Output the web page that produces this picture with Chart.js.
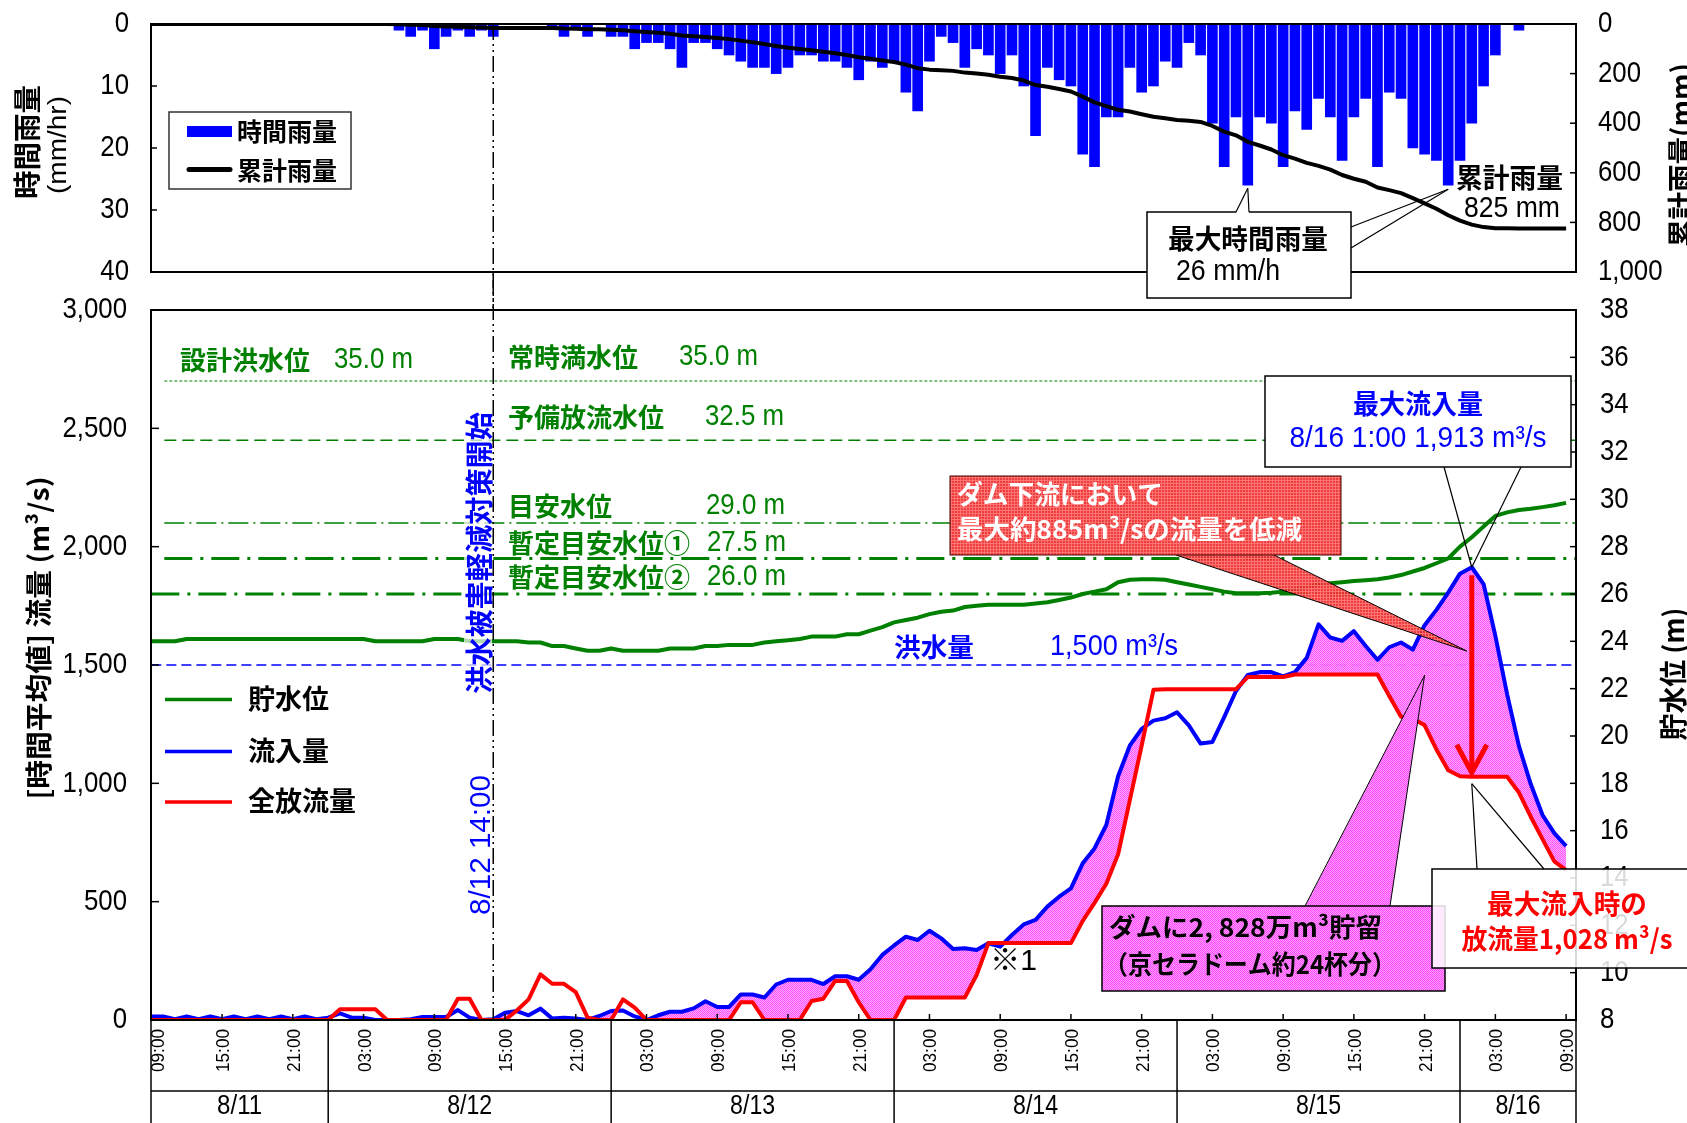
<!DOCTYPE html>
<html lang="ja">
<head>
<meta charset="utf-8">
<title>ダム操作状況（8/11〜8/16）</title>
<script src="https://cdn.jsdelivr.net/npm/chart.js@4.4.1/dist/chart.umd.min.js"></script>
<style>
  html, body { margin: 0; padding: 0; background: #fff; }
  #wrap { position: relative; width: 1687px; height: 1123px; overflow: hidden; background: #fff; }
  #wrap canvas { position: absolute; left: 0; top: 0; }
</style>
</head>
<body>
<div id="wrap">
  <canvas id="rain" width="1687" height="1123"></canvas>
  <canvas id="flow" width="1687" height="1123"></canvas>
</div>
<script>
// ---- hourly series, index = hours after 8/11 09:00 ----
const hourlyRain = [
  0,0,0,0,0,0,0,0,0,0,0,0,
  0,0,0,0,0,0,0,0,0,1,2,1,
  4,2,1,2,1,2,0,0,0,0,0.5,2,
  0.5,2,0,2,2,4,3,3,4,7,3,3,
  4,5,6,7,7,8,7,5,5,6,6,7,
  9,6,7,6,11,14,6,2,3,7,4,5,
  8,5,10,18,7,9,10,21,23,15,15,7,
  11,10,6,7,3,5,16,23,15,26,15,16,
  23,14,17,12,15,22,15,12,23,11,12,20,
  21,22,26,22,16,10,5,0,1,0,0,0,
  0
];
const cumulativeRain = [
  0,0,0,0,0,0,0,0,0,0,0,0,
  0,0,0,0,0,0,0,0,0,1,3,4,
  8,10,11,13,14,16,16,16,16,16,16.5,18.5,
  19,21,21,23,25,29,32,35,39,46,49,52,
  56,61,67,74,81,89,96,101,106,112,118,125,
  134,140,147,153,164,178,184,186,189,196,200,205,
  213,218,228,246,253,262,272,293,316,331,346,353,
  364,374,380,387,390,395,411,434,449,475,490,506,
  529,543,560,572,587,609,624,636,659,670,682,702,
  723,745,771,793,809,819,824,824,825,825,825,825,
  825
];
const inflow = [
  15,15,3,15,3,15,3,15,3,15,3,15,
  3,15,3,10,28,10,10,0,0,0,3,13,
  13,13,42,10,0,3,31,38,20,48,6,10,
  6,0,17,38,40,15,0,20,35,35,49,79,
  55,55,108,108,95,150,170,170,170,152,185,185,
  170,214,275,315,352,338,377,345,300,303,296,324,
  310,359,404,423,479,521,556,662,725,824,1030,1160,
  1230,1265,1275,1300,1245,1168,1175,1280,1390,1458,1470,1470,
  1452,1470,1530,1672,1616,1602,1643,1580,1522,1575,1595,1565,
  1668,1733,1806,1886,1913,1842,1623,1376,1157,997,866,790,
  735
];
const outflow = [
  0,0,0,0,0,0,0,0,0,0,0,0,
  0,0,0,0,45,45,45,45,0,0,0,0,
  0,0,90,90,0,0,0,40,87,193,153,153,
  118,10,0,0,87,52,0,0,0,0,0,0,
  0,0,75,75,0,0,0,0,80,90,165,165,
  75,0,0,0,95,95,95,95,95,95,190,325,
  325,325,325,325,325,325,325,419,495,576,700,930,
  1160,1395,1398,1398,1398,1398,1398,1398,1398,1449,1449,1449,
  1449,1460,1460,1460,1460,1460,1460,1460,1460,1369,1281,1274,
  1245,1143,1055,1030,1028,1028,1028,1028,961,859,764,670,
  633
];
const waterLevel = [
  24.0,24.0,24.0,24.1,24.1,24.1,24.1,24.1,24.1,24.1,24.1,24.1,
  24.1,24.1,24.1,24.1,24.1,24.1,24.1,24.0,24.0,24.0,24.0,24.0,
  24.1,24.1,24.1,24.0,24.0,24.0,24.0,24.0,23.95,23.95,23.8,23.8,
  23.7,23.6,23.6,23.7,23.6,23.6,23.6,23.6,23.7,23.7,23.7,23.8,
  23.8,23.85,23.85,23.85,23.95,24.0,24.05,24.1,24.2,24.2,24.2,24.3,
  24.3,24.45,24.6,24.8,24.9,25.0,25.15,25.25,25.3,25.45,25.5,25.55,
  25.55,25.55,25.55,25.6,25.65,25.75,25.85,26.0,26.1,26.2,26.5,26.6,
  26.62,26.62,26.6,26.5,26.4,26.3,26.2,26.1,26.03,26.03,26.03,26.05,
  26.1,26.2,26.3,26.4,26.45,26.5,26.55,26.58,26.62,26.7,26.8,26.95,
  27.1,27.3,27.5,28.0,28.4,28.85,29.3,29.45,29.55,29.6,29.67,29.75,
  29.85
];

// reference levels (m) and flood discharge (m3/s)
const levelNames  = ['設計洪水位', '常時満水位', '予備放流水位', '目安水位', '暫定目安水位①', '暫定目安水位②'];
const levelValues = [35.0, 35.0, 32.5, 29.0, 27.5, 26.0];
const floodFlow = 1500;
const operationStartHour = 29;          // 8/12 14:00

// axis labelling
const timeTickHours  = [0,6,12,18,24,30,36,42,48,54,60,66,72,78,84,90,96,102,108,114,120];
const timeTickLabels = ['09:00','15:00','21:00','03:00','09:00','15:00','21:00','03:00','09:00','15:00','21:00',
                        '03:00','09:00','15:00','21:00','03:00','09:00','15:00','21:00','03:00','09:00'];
const dayBoundaryHours = [15, 39, 63, 87, 111];
const dayLabels = ['8/11', '8/12', '8/13', '8/14', '8/15', '8/16'];

// ---- layout / style ----
const X_MIN = -0.03, X_MAX = 120.84;
const F_NUM = "'Liberation Sans',Arial,'Noto Sans CJK JP',sans-serif";
const F_JP  = "'Noto Sans CJK JP','Noto Sans',sans-serif";
const F_LAT = "'Liberation Sans',Arial,sans-serif";
const GREEN = '#008000', BLUE = '#0000ff', RED = '#ff0000';
const TICK = { size: 30, family: F_NUM, sx: 0.86 };

const pts = arr => arr.map((v, i) => ({ x: i, y: v }));
const fmt = v => Math.round(v).toLocaleString('en-US');

function seg(ctx, x1, y1, x2, y2) {
  ctx.beginPath(); ctx.moveTo(x1, y1); ctx.lineTo(x2, y2); ctx.stroke();
}
function txt(ctx, s, x, y, o = {}) {
  ctx.save();
  ctx.font = `${o.weight || 'normal'} ${o.size || 26}px ${o.family || F_JP}`;
  ctx.fillStyle = o.color || '#000';
  ctx.textBaseline = 'middle';
  ctx.textAlign = o.align || 'left';
  ctx.translate(x, y);
  if (o.rotate) ctx.rotate(o.rotate);
  if (o.width) { const w = ctx.measureText(s).width; if (w > 0) ctx.scale(o.width / w, 1); }
  else if (o.sx) ctx.scale(o.sx, 1);
  ctx.fillText(s, 0, 0);
  ctx.restore();
}
function makePattern(ctx, size, paint) {
  const c = document.createElement('canvas');
  c.width = c.height = size;
  paint(c.getContext('2d'));
  return ctx.createPattern(c, 'repeat');
}
function hourLabel(h) {
  const t = 9 + h;
  return `8/${11 + Math.floor(t / 24)} ${t % 24}:00`;
}
// value axes: fixed widths, labels drawn by the decoration plugins
function valueAxis(position, min, max, step, reverse) {
  return {
    type: 'linear', position, min, max, reverse: !!reverse,
    grid: { display: false, drawTicks: false }, border: { display: false },
    ticks: { stepSize: step, display: false, autoSkip: false },
    afterFit(s) { s.width = position === 'left' ? 151 : 111; s.paddingTop = 0; s.paddingBottom = 0; }
  };
}
function axisLabels(ctx, scale, side, x, fmtFn) {
  scale.ticks.forEach(t => {
    txt(ctx, fmtFn(t.value), x, scale.getPixelForValue(t.value), Object.assign({ align: side === 'left' ? 'right' : 'left' }, TICK));
  });
}

const rainCtx = document.getElementById('rain').getContext('2d');
const flowCtx = document.getElementById('flow').getContext('2d');

const storagePattern = makePattern(flowCtx, 2, g => {
  g.fillStyle = 'rgba(255,160,255,0.9)'; g.fillRect(0, 0, 2, 2);
  g.fillStyle = 'rgba(255,70,255,0.9)'; g.fillRect(0, 0, 1, 1); g.fillRect(1, 1, 1, 1);
});
const storageSolid = makePattern(flowCtx, 2, g => {
  g.fillStyle = '#ffa0ff'; g.fillRect(0, 0, 2, 2);
  g.fillStyle = '#ff46ff'; g.fillRect(0, 0, 1, 1); g.fillRect(1, 1, 1, 1);
});
const redPattern = makePattern(flowCtx, 3, g => {
  g.fillStyle = 'rgba(236,40,40,0.9)'; g.fillRect(0, 0, 3, 3);
  g.fillStyle = 'rgba(255,120,120,0.9)'; g.fillRect(0, 0, 3, 1); g.fillRect(0, 0, 1, 3);
});

// ---------------- rainfall panel ----------------
const rainDeco = {
  id: 'rainDeco',
  afterDraw(chart) {
    const { ctx, chartArea: a, scales: { x, yRain, yCum } } = chart;
    ctx.save();
    ctx.strokeStyle = '#000';
    ctx.lineWidth = 2;
    ctx.strokeRect(a.left, a.top, a.right - a.left, a.bottom - a.top);
    ctx.lineWidth = 1.5;
    yRain.ticks.forEach(t => {
      if (t.value > yRain.min && t.value < yRain.max) { const p = yRain.getPixelForValue(t.value); seg(ctx, a.left, p, a.left + 6, p); }
    });
    yCum.ticks.forEach(t => {
      if (t.value > yCum.min && t.value < yCum.max) { const p = yCum.getPixelForValue(t.value); seg(ctx, a.right - 6, p, a.right, p); }
    });
    axisLabels(ctx, yRain, 'left', a.left - 22, v => String(v));
    axisLabels(ctx, yCum, 'right', a.right + 22, v => fmt(v));

    // start of flood-damage mitigation operation
    const sx = x.getPixelForValue(operationStartHour);
    ctx.setLineDash([16, 4, 2, 4, 2, 4]);
    seg(ctx, sx, a.top, sx, 310);
    ctx.setLineDash([]);

    // legend
    ctx.fillStyle = '#fff'; ctx.fillRect(169, 112, 182, 77);
    ctx.strokeStyle = '#333'; ctx.lineWidth = 1.5; ctx.strokeRect(169, 112, 182, 77);
    ctx.fillStyle = BLUE; ctx.fillRect(187, 126, 45, 11);
    ctx.strokeStyle = '#000'; ctx.lineWidth = 5; ctx.lineCap = 'round';
    seg(ctx, 189, 169.5, 230, 169.5);
    ctx.lineCap = 'butt';
    txt(ctx, '時間雨量', 237, 131.5, { size: 25, weight: 'bold', width: 100 });
    txt(ctx, '累計雨量', 237, 170, { size: 25, weight: 'bold', width: 100 });

    // axis titles
    txt(ctx, '時間雨量', 27, 142, { size: 28, weight: 'bold', align: 'center', rotate: -Math.PI / 2, width: 114 });
    txt(ctx, '(mm/hr)', 59, 145, { size: 26, family: F_LAT, align: 'center', rotate: -Math.PI / 2, width: 98 });
    txt(ctx, '累計雨量(mm)', 1681, 155, { size: 28, weight: 'bold', align: 'center', rotate: -Math.PI / 2, width: 184 });

    // maximum hourly rainfall callout
    const maxRain = Math.max(...hourlyRain);
    const peaks = hourlyRain.map((v, i) => (v === maxRain ? i : -1)).filter(i => i >= 0);
    const bx = 1147, by = 212, bw = 204, bh = 86;
    ctx.fillStyle = '#fff'; ctx.fillRect(bx, by, bw, bh);
    ctx.strokeStyle = '#000'; ctx.lineWidth = 1.5; ctx.strokeRect(bx, by, bw, bh);
    ctx.lineWidth = 1.2;
    const t1x = x.getPixelForValue(peaks[0]), t1y = yRain.getPixelForValue(maxRain) + 3;
    ctx.fillStyle = '#fff';
    ctx.beginPath(); ctx.moveTo(1236, by + 1); ctx.lineTo(t1x, t1y); ctx.lineTo(1249, by + 1); ctx.closePath(); ctx.fill();
    seg(ctx, 1236, by, t1x, t1y); seg(ctx, 1249, by, t1x, t1y);
    if (peaks.length > 1) {
      const t2x = x.getPixelForValue(peaks[peaks.length - 1]), t2y = yRain.getPixelForValue(maxRain) + 4;
      seg(ctx, bx + bw, 227, t2x, t2y); seg(ctx, bx + bw, 248, t2x, t2y);
    }
    txt(ctx, '最大時間雨量', 1248, 239, { size: 27, weight: 'bold', align: 'center', width: 160 });
    txt(ctx, `${maxRain} mm/h`, 1176, 272, { size: 30, family: F_NUM, width: 104 });

    // total rainfall label
    txt(ctx, '累計雨量', 1456, 178, { size: 27, weight: 'bold', width: 107 });
    txt(ctx, `${fmt(cumulativeRain[cumulativeRain.length - 1])} mm`, 1464, 209, { size: 30, family: F_NUM, width: 96 });
    ctx.restore();
  }
};

new Chart(rainCtx, {
  type: 'line',
  data: {
    datasets: [
      { type: 'line', label: '累計雨量', data: pts(cumulativeRain), yAxisID: 'yCum', borderColor: '#000', borderWidth: 4,
        pointRadius: 0, tension: 0, fill: false, borderJoinStyle: 'round', order: 0 },
      { type: 'bar', label: '時間雨量', data: pts(hourlyRain), yAxisID: 'yRain', backgroundColor: BLUE, borderWidth: 0,
        barThickness: 10, order: 1 }
    ]
  },
  options: {
    responsive: false, animation: false, events: [], devicePixelRatio: 1,
    layout: { padding: { top: 24, bottom: 1123 - 272, left: 0, right: 0 } },
    plugins: { legend: { display: false }, tooltip: { enabled: false } },
    scales: {
      x: { type: 'linear', min: X_MIN, max: X_MAX, display: false, offset: false },
      yRain: valueAxis('left', 0, 40, 10, true),
      yCum: valueAxis('right', 0, 1000, 200, true)
    }
  },
  plugins: [rainDeco]
});

// ---------------- discharge / water level panel ----------------
const levelLineStyles = {
  '35.0': { dash: [3, 2], width: 1.2, from: 1.1 },
  '32.5': { dash: [12, 6], width: 1.5, from: 1.1 },
  '29.0': { dash: [20, 5, 2, 5], width: 1.5, from: 1.1 },
  '27.5': { dash: [28, 8, 3, 8], width: 3, from: 1.1 },
  '26.0': { dash: [28, 8, 3, 8], width: 3, from: 0 }
};
const levelLabelPos = [
  { x: 180, y: 360, vx: 334 },
  { x: 508, y: 357, vx: 679 },
  { x: 508, y: 417, vx: 705 },
  { x: 508, y: 506, vx: 706 },
  { x: 508, y: 543, vx: 707 },
  { x: 508, y: 577, vx: 707 }
];

const refDatasets = [...new Set(levelValues)].map(v => {
  const st = levelLineStyles[v.toFixed(1)];
  return {
    type: 'line', data: [{ x: st.from, y: v }, { x: X_MAX, y: v }], yAxisID: 'yLevel',
    borderColor: GREEN, borderWidth: st.width, borderDash: st.dash, pointRadius: 0, fill: false, order: 3
  };
});
refDatasets.push({
  type: 'line', data: [{ x: 0, y: floodFlow }, { x: X_MAX, y: floodFlow }], yAxisID: 'yFlow',
  borderColor: BLUE, borderWidth: 1.5, borderDash: [10, 5], pointRadius: 0, fill: false, order: 3
});

const flowDeco = {
  id: 'flowDeco',
  afterDraw(chart) {
    const { ctx, chartArea: a, scales: { x, yFlow, yLevel } } = chart;
    const X = h => x.getPixelForValue(h);
    const YF = v => yFlow.getPixelForValue(v);
    ctx.save();

    // operation start note
    ctx.fillStyle = 'rgba(255,255,255,0.7)';
    ctx.fillRect(464, 410, 28, 288);
    txt(ctx, '洪水被害軽減対策開始', 479, 553, { size: 28, weight: 'bold', color: BLUE, align: 'center', rotate: -Math.PI / 2, width: 282 });
    txt(ctx, hourLabel(operationStartHour), 482, 845, { size: 30, family: F_NUM, color: BLUE, align: 'center', rotate: -Math.PI / 2, width: 140 });
    ctx.strokeStyle = '#000'; ctx.lineWidth = 1.5;
    ctx.setLineDash([16, 4, 2, 4, 2, 4]);
    const sx = X(operationStartHour);
    seg(ctx, sx, a.top - 38, sx, a.bottom);
    ctx.setLineDash([]);

    // frame, inside ticks and value labels
    ctx.lineWidth = 2;
    ctx.strokeRect(a.left, a.top, a.right - a.left, a.bottom - a.top);
    ctx.lineWidth = 1.5;
    yFlow.ticks.forEach(t => {
      if (t.value > yFlow.min && t.value < yFlow.max) { const p = YF(t.value); seg(ctx, a.left, p, a.left + 8, p); }
    });
    yLevel.ticks.forEach(t => {
      if (t.value > yLevel.min && t.value < yLevel.max) { const p = yLevel.getPixelForValue(t.value); seg(ctx, a.right - 6, p, a.right, p); }
    });
    timeTickHours.forEach(h => { if (h > 0) seg(ctx, X(h), a.bottom, X(h), a.bottom - 6); });
    axisLabels(ctx, yFlow, 'left', a.left - 24, v => fmt(v));
    axisLabels(ctx, yLevel, 'right', a.right + 24, v => String(v));

    // time labels and date row
    timeTickHours.forEach((h, i) =>
      txt(ctx, timeTickLabels[i], Math.max(X(h) + 2, a.left + 8), 1029,
          { size: 18, family: F_LAT, align: 'right', rotate: -Math.PI / 2, width: 43 }));
    const edges = [a.left, ...dayBoundaryHours.map(X), a.right];
    edges.forEach(px => seg(ctx, px, a.bottom, px, 1123));
    seg(ctx, a.left, 1091, a.right, 1091);
    dayLabels.forEach((d, i) =>
      txt(ctx, d, (edges[i] + edges[i + 1]) / 2, 1106, { size: 28, family: F_NUM, align: 'center', width: 45 }));

    // reference level labels
    levelNames.forEach((n, i) => {
      const p = levelLabelPos[i];
      txt(ctx, n, p.x, p.y, { size: 26, weight: 'bold', color: GREEN });
      txt(ctx, `${levelValues[i].toFixed(1)} m`, p.vx, p.y, { size: 30, family: F_NUM, color: GREEN, width: 79 });
    });
    txt(ctx, '洪水量', 894, 647, { size: 26, weight: 'bold', color: BLUE, width: 80 });
    txt(ctx, `${fmt(floodFlow)} m³/s`, 1050, 647, { size: 30, family: F_NUM, color: BLUE, width: 128 });

    // legend
    [[GREEN, '貯水位', 699.5], [BLUE, '流入量', 751.5], [RED, '全放流量', 802]].forEach(([c, n, y]) => {
      ctx.strokeStyle = c; ctx.lineWidth = 3.5; seg(ctx, 165, y, 232, y);
      txt(ctx, n, 248, y - 1, { size: 27, weight: 'bold' });
    });

    // axis titles
    txt(ctx, '[時間平均値] 流量 (m³/s)', 39, 638, { size: 27, weight: 'bold', align: 'center', rotate: -Math.PI / 2, width: 323 });
    txt(ctx, '貯水位 (m)', 1673, 674, { size: 28, weight: 'bold', align: 'center', rotate: -Math.PI / 2, width: 133 });

    // peak inflow and the discharge at that hour
    const maxIn = Math.max(...inflow);
    const pk = inflow.indexOf(maxIn);
    const outAtPeak = outflow[pk];
    const px = X(pk);

    // reduction callout (red)
    const rTipX = px - 5, rTipY = YF(outAtPeak + 0.6 * (maxIn - outAtPeak));
    ctx.fillStyle = redPattern;
    ctx.beginPath(); ctx.moveTo(1176, 555); ctx.lineTo(rTipX, rTipY); ctx.lineTo(1274, 555); ctx.closePath(); ctx.fill();
    ctx.strokeStyle = '#000'; ctx.lineWidth = 1;
    seg(ctx, 1176, 555, rTipX, rTipY); seg(ctx, 1274, 555, rTipX, rTipY);
    ctx.fillStyle = redPattern; ctx.fillRect(950, 476, 391, 79);
    ctx.strokeStyle = '#400'; ctx.lineWidth = 1; ctx.strokeRect(950, 476, 391, 79);
    txt(ctx, 'ダム下流において', 957, 494, { size: 26, weight: 'bold', color: '#fff', width: 206 });
    txt(ctx, `最大約${fmt(maxIn - outAtPeak)}m³/sの流量を低減`, 957, 529, { size: 26, weight: 'bold', color: '#fff', width: 345 });

    // peak inflow callout
    ctx.fillStyle = '#fff'; ctx.fillRect(1265, 376, 306, 91);
    ctx.strokeStyle = '#000'; ctx.lineWidth = 1.5; ctx.strokeRect(1265, 376, 306, 91);
    ctx.lineWidth = 1.2;
    seg(ctx, 1444, 467, px, YF(maxIn)); seg(ctx, 1521, 467, px, YF(maxIn));
    txt(ctx, '最大流入量', 1418, 404, { size: 27, weight: 'bold', color: BLUE, align: 'center', width: 130 });
    txt(ctx, `${hourLabel(pk)} ${fmt(maxIn)} m³/s`, 1418, 439, { size: 30, family: F_NUM, color: BLUE, align: 'center', width: 257 });

    // reduction arrow
    const ay1 = YF(maxIn) + 8, ay2 = YF(outAtPeak) - 4;
    ctx.strokeStyle = RED; ctx.lineWidth = 5; ctx.lineCap = 'butt';
    seg(ctx, px, ay1, px, ay2 - 3);
    ctx.lineJoin = 'miter';
    ctx.beginPath(); ctx.moveTo(px - 15, ay2 - 28); ctx.lineTo(px, ay2); ctx.lineTo(px + 15, ay2 - 28); ctx.stroke();

    // storage callout (magenta)
    const sh = 108;
    const mTipX = X(sh), mTipY = YF((inflow[sh] + outflow[sh]) / 2);
    ctx.fillStyle = storageSolid;
    ctx.beginPath(); ctx.moveTo(1305, 907); ctx.lineTo(mTipX, mTipY); ctx.lineTo(1390, 907); ctx.closePath(); ctx.fill();
    ctx.strokeStyle = '#000'; ctx.lineWidth = 1;
    seg(ctx, 1305, 906, mTipX, mTipY); seg(ctx, 1390, 906, mTipX, mTipY);
    ctx.fillStyle = storageSolid; ctx.fillRect(1102, 906, 343, 85);
    ctx.lineWidth = 1.5; ctx.strokeRect(1102, 906, 343, 85);
    txt(ctx, 'ダムに2, 828万m³貯留', 1109, 927, { size: 26, weight: 'bold', width: 273 });
    txt(ctx, '（京セラドーム約24杯分）', 1104, 964, { size: 26, weight: 'bold', width: 292 });

    // discharge at peak inflow callout
    ctx.fillStyle = 'rgba(255,255,255,0.85)'; ctx.fillRect(1432, 869, 262, 99);
    ctx.strokeStyle = '#000'; ctx.lineWidth = 1.5; ctx.strokeRect(1432, 869, 262, 99);
    ctx.lineWidth = 1.2;
    const oTipY = YF(outAtPeak) + 7;
    seg(ctx, 1477, 869, px, oTipY); seg(ctx, 1544, 869, px, oTipY);
    txt(ctx, '最大流入時の', 1567, 904, { size: 27, weight: 'bold', color: RED, align: 'center', width: 160 });
    txt(ctx, `放流量${fmt(outAtPeak)} m³/s`, 1567, 939, { size: 27, weight: 'bold', color: RED, align: 'center', width: 211 });

    // note mark
    txt(ctx, '※1', 990, 962, { size: 30, family: F_NUM, width: 47 });
    ctx.restore();
  }
};

new Chart(flowCtx, {
  type: 'line',
  data: {
    datasets: [
      { label: '全放流量', data: pts(outflow), yAxisID: 'yFlow', borderColor: RED, borderWidth: 4, pointRadius: 0,
        tension: 0, fill: false, borderJoinStyle: 'round', order: 0 },
      { label: '流入量', data: pts(inflow), yAxisID: 'yFlow', borderColor: BLUE, borderWidth: 4, pointRadius: 0,
        tension: 0, borderJoinStyle: 'round', order: 1,
        fill: { target: 0, above: storagePattern, below: 'rgba(0,0,0,0)' } },
      { label: '貯水位', data: pts(waterLevel), yAxisID: 'yLevel', borderColor: GREEN, borderWidth: 4, pointRadius: 0,
        tension: 0, fill: false, borderJoinStyle: 'round', order: 2 },
      ...refDatasets
    ]
  },
  options: {
    responsive: false, animation: false, events: [], devicePixelRatio: 1,
    layout: { padding: { top: 310, bottom: 1123 - 1020, left: 0, right: 0 } },
    plugins: { legend: { display: false }, tooltip: { enabled: false } },
    scales: {
      x: { type: 'linear', min: X_MIN, max: X_MAX, display: false, offset: false },
      yFlow: valueAxis('left', 0, 3000, 500, false),
      yLevel: valueAxis('right', 8, 38, 2, false)
    }
  },
  plugins: [flowDeco]
});
</script>
</body>
</html>
